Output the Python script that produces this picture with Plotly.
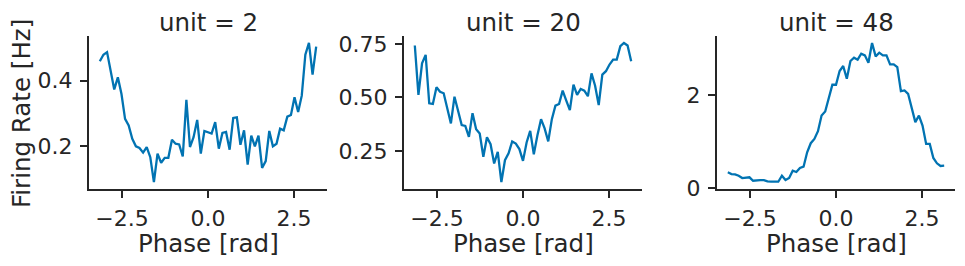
import plotly.graph_objects as go

# ---- data -------------------------------------------------------------
phase = [-3.142, -3.037, -2.932, -2.827, -2.723, -2.618, -2.513, -2.409, -2.304, -2.199,
         -2.094, -1.990, -1.885, -1.780, -1.676, -1.571, -1.466, -1.361, -1.257, -1.152,
         -1.047, -0.942, -0.838, -0.733, -0.628, -0.524, -0.419, -0.314, -0.209, -0.105,
         0.000, 0.105, 0.209, 0.314, 0.419, 0.524, 0.628, 0.733, 0.838, 0.942,
         1.047, 1.152, 1.257, 1.361, 1.466, 1.571, 1.676, 1.780, 1.885, 1.990,
         2.094, 2.199, 2.304, 2.409, 2.513, 2.618, 2.723, 2.827, 2.932, 3.037, 3.142]

units = ["2", "20", "48"]

rate_unit2 = [0.459, 0.479, 0.487, 0.430, 0.373, 0.410, 0.359, 0.283, 0.263, 0.222,
              0.199, 0.194, 0.180, 0.197, 0.166, 0.090, 0.177, 0.149, 0.164, 0.164,
              0.219, 0.207, 0.205, 0.168, 0.341, 0.197, 0.227, 0.280, 0.177, 0.246,
              0.241, 0.238, 0.273, 0.192, 0.240, 0.243, 0.189, 0.286, 0.288, 0.204,
              0.248, 0.143, 0.232, 0.199, 0.232, 0.133, 0.154, 0.246, 0.199, 0.207,
              0.253, 0.248, 0.290, 0.295, 0.349, 0.304, 0.354, 0.479, 0.515, 0.418, 0.504]

rate_unit20 = [0.742, 0.511, 0.659, 0.698, 0.472, 0.469, 0.547, 0.526, 0.519, 0.445,
               0.378, 0.503, 0.430, 0.370, 0.366, 0.315, 0.426, 0.351, 0.331, 0.222,
               0.313, 0.281, 0.191, 0.245, 0.104, 0.206, 0.238, 0.294, 0.284, 0.258,
               0.203, 0.289, 0.343, 0.234, 0.323, 0.398, 0.355, 0.294, 0.398, 0.461,
               0.469, 0.531, 0.484, 0.440, 0.559, 0.511, 0.539, 0.531, 0.505, 0.612,
               0.554, 0.464, 0.606, 0.622, 0.653, 0.676, 0.676, 0.739, 0.754, 0.742, 0.669]

rate_unit48 = [0.340, 0.303, 0.297, 0.267, 0.217, 0.217, 0.232, 0.158, 0.173, 0.173,
               0.173, 0.145, 0.137, 0.130, 0.137, 0.267, 0.173, 0.217, 0.375, 0.347,
               0.433, 0.462, 0.774, 0.969, 1.062, 1.229, 1.567, 1.653, 1.928, 2.232,
               2.232, 2.529, 2.637, 2.362, 2.745, 2.817, 2.774, 2.904, 2.867, 2.709,
               3.135, 2.845, 2.925, 2.867, 2.867, 2.672, 2.672, 2.615, 2.095, 2.108,
               2.037, 1.733, 1.424, 1.567, 1.350, 0.953, 0.953, 0.650, 0.535, 0.477, 0.483]

x_tickvals = [-2.5, 0.0, 2.5]
x_ticktext = ["\u22122.5", "0.0", "2.5"]
y_tickvals = [[0.2, 0.4], [0.25, 0.50, 0.75], [0, 2]]
y_ticktext = [["0.2", "0.4"], ["0.25", "0.50", "0.75"], ["0", "2"]]

series = [rate_unit2, rate_unit20, rate_unit48]

# ---- layout constants -------------------------------------------------
W, H = 965, 266
L, R, T, B = 89, 10, 36, 77
PW = W - L - R
PH = H - T - B
panel_px = [(89, 327), (404, 642), (717, 955)]
domains = [[(a - L) / PW, (b - L) / PW] for a, b in panel_px]

INK = "#262626"
FONT = "DejaVu Sans"
LINE = "#0173b2"
TICK_SIZE = 22
LABEL_SIZE = 24.5

fig = go.Figure()


def pad(lo, hi, f=0.05):
    s = hi - lo
    return [lo - f * s, hi + f * s]


xr = pad(min(phase), max(phase))

for i, ys in enumerate(series):
    n = "" if i == 0 else str(i + 1)
    fig.add_trace(go.Scatter(x=phase, y=ys, mode="lines",
                             line=dict(color=LINE, width=2.3),
                             xaxis="x" + n, yaxis="y" + n, showlegend=False))
    common = dict(showline=True, linecolor=INK, linewidth=2, ticks="outside",
                  ticklen=7, tickwidth=2, tickcolor=INK, showgrid=False,
                  zeroline=False, tickfont=dict(family=FONT, size=TICK_SIZE, color=INK))
    ax = dict(domain=domains[i], range=xr, tickvals=x_tickvals, ticktext=x_ticktext,
              anchor="y" + n, ticklabelstandoff=2, **common)
    ay = dict(domain=[0, 1], range=pad(min(ys), max(ys)), tickvals=y_tickvals[i],
              ticktext=y_ticktext[i], anchor="x" + n, ticklabelstandoff=3, **common)
    fig.layout["xaxis" + n] = ax
    fig.layout["yaxis" + n] = ay
    cx = (domains[i][0] + domains[i][1]) / 2
    fig.add_annotation(text="unit = " + units[i], x=cx, y=(189 - 22) / PH,
                       xref="paper", yref="paper", showarrow=False,
                       xanchor="center", yanchor="middle",
                       font=dict(family=FONT, size=LABEL_SIZE, color=INK))
    fig.add_annotation(text="Phase [rad]", x=cx, y=(189 - 243) / PH,
                       xref="paper", yref="paper", showarrow=False,
                       xanchor="center", yanchor="middle",
                       font=dict(family=FONT, size=LABEL_SIZE, color=INK))

fig.add_annotation(text="Firing Rate [Hz]", x=(21 - L) / PW, y=(189 - 114) / PH,
                   xref="paper", yref="paper", showarrow=False, textangle=-90,
                   xanchor="center", yanchor="middle",
                   font=dict(family=FONT, size=LABEL_SIZE, color=INK))

fig.update_layout(width=W, height=H, margin=dict(l=L, r=R, t=T, b=B),
                  plot_bgcolor="white", paper_bgcolor="white")

fig.write_html("out.html")
